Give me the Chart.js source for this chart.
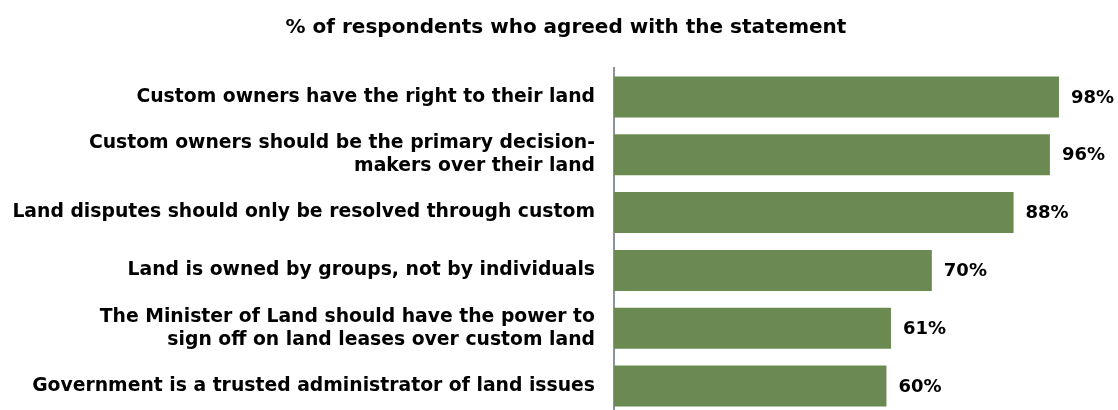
<!DOCTYPE html>
<html>
<head>
<meta charset="utf-8">
<script src="https://cdn.jsdelivr.net/npm/chart.js@4.4.1/dist/chart.umd.min.js"></script>
<style>
    html, body { margin: 0; padding: 0; background: #fff; overflow: hidden; }
    #wrap { width: 1118px; height: 420px; }
</style>
</head>
<body>
<div id="wrap"><canvas id="agreeChart" width="1118" height="420"></canvas></div>
<script>
// Statements (multi-line ones split the way the original wraps them)
const statements = [
    'Custom owners have the right to their land',
    ['Custom owners should be the primary decision-', 'makers over their land'],
    'Land disputes should only be resolved through custom',
    'Land is owned by groups, not by individuals',
    ['The Minister of Land should have the power to', 'sign off on land leases over custom land'],
    'Government is a trusted administrator of land issues'
];
const agreedPct = [98, 96, 88, 70, 61, 60];
const chartTitle = '% of respondents who agreed with the statement';

const FONT = '"DejaVu Sans", sans-serif';

// draws the "98%" style labels at the end of each bar
const valueLabels = {
    id: 'valueLabels',
    afterDatasetsDraw(chart) {
        const ctx = chart.ctx;
        const meta = chart.getDatasetMeta(0);
        ctx.save();
        ctx.font = 'bold 18px ' + FONT;
        ctx.fillStyle = '#000';
        ctx.textAlign = 'left';
        ctx.textBaseline = 'middle';
        meta.data.forEach((bar, i) => {
            ctx.fillText(agreedPct[i] + '%', bar.x + 12, bar.y + 1);
        });
        ctx.restore();
    }
};

new Chart(document.getElementById('agreeChart'), {
    type: 'bar',
    data: {
        labels: statements,
        datasets: [{
            data: agreedPct,
            backgroundColor: '#6b8a52',
            barPercentage: 0.71,
            categoryPercentage: 1
        }]
    },
    options: {
        indexAxis: 'y',
        responsive: false,
        animation: false,
        layout: {
            padding: { left: 14, right: 0, top: 0, bottom: 5 }
        },
        scales: {
            x: {
                display: false,
                min: 0,
                max: 111   // leaves room on the right for the value labels
            },
            y: {
                grid: { display: false, drawTicks: false },
                border: { display: true, color: '#8c939c', width: 2 },
                ticks: {
                    color: '#000',
                    padding: 19,
                    font: { family: FONT, size: 18.8, weight: 'bold', lineHeight: 1.23 }
                },
                afterFit: scale => {
                    scale.width = 600;
                    // don't let the label heights squeeze the plot area
                    scale.paddingTop = 0;
                    scale.paddingBottom = 0;
                }
            }
        },
        plugins: {
            legend: { display: false },
            tooltip: { enabled: false },
            title: {
                display: true,
                text: chartTitle,
                color: '#000',
                font: { family: FONT, size: 20, weight: 'bold' },
                padding: { top: 16, bottom: 28 }
            }
        }
    },
    plugins: [valueLabels]
});
</script>
</body>
</html>
